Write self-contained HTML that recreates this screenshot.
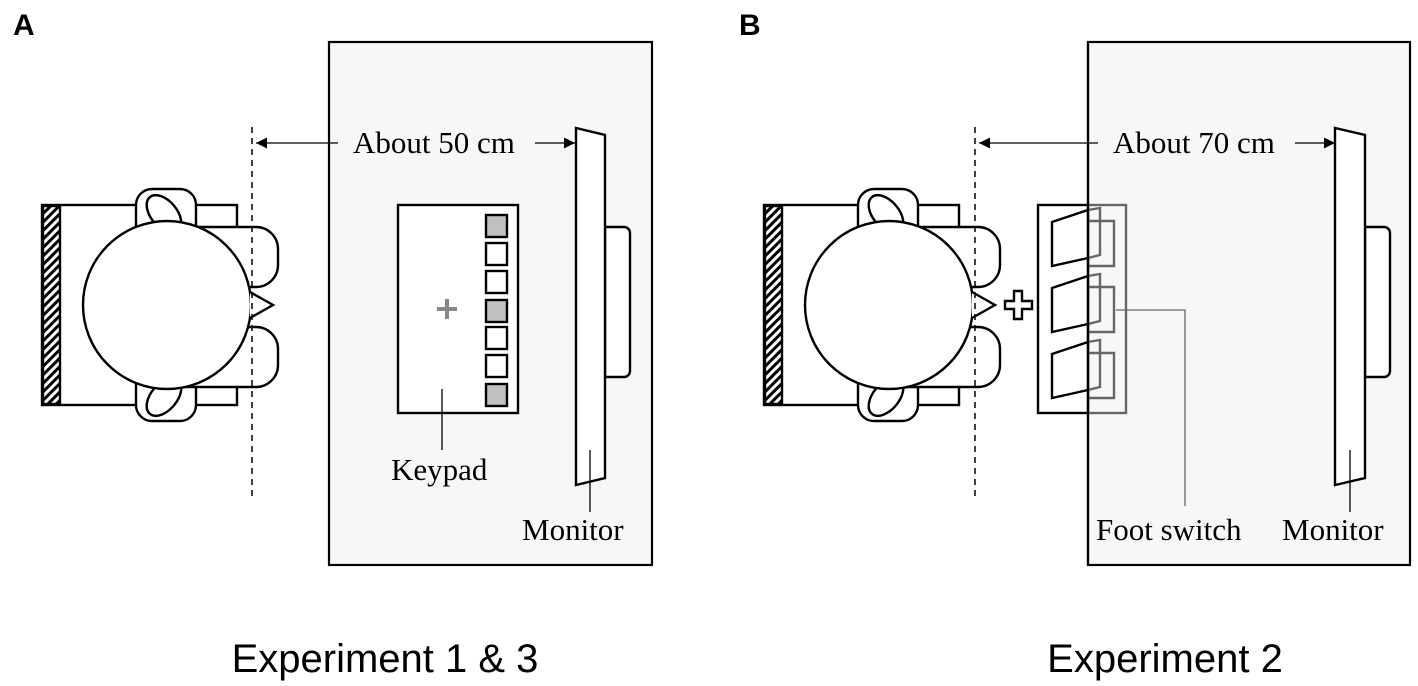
<!DOCTYPE html>
<html><head><meta charset="utf-8"><style>
html,body{margin:0;padding:0;background:#fff;}
svg{display:block;}
.s{font-family:"Liberation Serif",serif;font-size:31px;fill:#000;}
</style></head><body>
<svg width="1418" height="686" viewBox="0 0 1418 686" xmlns="http://www.w3.org/2000/svg">
<defs>
<pattern id="h" width="6" height="6" patternUnits="userSpaceOnUse" patternTransform="rotate(45)">
<rect width="6" height="6" fill="#fff"/><rect width="3" height="6" fill="#000"/></pattern>
<marker id="ar" viewBox="0 0 10 10" refX="10" refY="5" markerWidth="11" markerHeight="11" markerUnits="userSpaceOnUse" orient="auto"><path d="M0,0L10,5L0,10z" fill="#000"/></marker>
<g id="person" stroke-width="2.4">
<rect x="42" y="205" width="195" height="200" fill="#fff" stroke="#000"/>
<rect x="43" y="206" width="17" height="198" fill="url(#h)" stroke="#000"/>
<rect x="136" y="189" width="60" height="70" rx="16" fill="#fff" stroke="#000"/>
<rect x="136" y="355" width="60" height="66" rx="16" fill="#fff" stroke="#000"/>
<ellipse cx="164" cy="214" rx="13" ry="22" transform="rotate(-40 164 214)" fill="#fff" stroke="#000"/>
<ellipse cx="164" cy="397" rx="13" ry="22" transform="rotate(40 164 397)" fill="#fff" stroke="#000"/>
<path d="M170,227H256a22,22 0 0 1 22,22v16a22,22 0 0 1 -22,22H170z" fill="#fff" stroke="#000"/>
<path d="M170,327H256a22,22 0 0 1 22,22v16a22,22 0 0 1 -22,22H170z" fill="#fff" stroke="#000"/>
<circle cx="167" cy="305" r="84" fill="#fff" stroke="#000"/>
<path d="M250,292L273,305L250,318" fill="#fff" stroke="#000"/>
</g>
</defs>

<text x="13" y="35" font-family="Liberation Sans,sans-serif" font-weight="bold" font-size="30">A</text>
<text x="739" y="35" font-family="Liberation Sans,sans-serif" font-weight="bold" font-size="30">B</text>

<!-- Panel A -->
<rect x="329" y="42" width="323" height="523" fill="#f7f7f7" stroke="#000" stroke-width="2.2"/>
<use href="#person"/>
<line x1="252" y1="127" x2="252" y2="500" stroke="#000" stroke-width="1.5" stroke-dasharray="6,5"/>
<line x1="338" y1="143" x2="256" y2="143" stroke="#000" stroke-width="1.3" marker-end="url(#ar)"/>
<text class="s" x="353" y="153">About 50 cm</text>
<line x1="535" y1="143" x2="575" y2="143" stroke="#000" stroke-width="1.3" marker-end="url(#ar)"/>
<rect x="398" y="205" width="120" height="208" fill="#fff" stroke="#000" stroke-width="2.4"/>
<g stroke="#000" stroke-width="2.4">
<rect x="486" y="215" width="21" height="22" fill="#c0c0c0"/>
<rect x="486" y="243" width="21" height="22" fill="#fff"/>
<rect x="486" y="271" width="21" height="22" fill="#fff"/>
<rect x="486" y="300" width="21" height="22" fill="#c0c0c0"/>
<rect x="486" y="327" width="21" height="22" fill="#fff"/>
<rect x="486" y="355" width="21" height="22" fill="#fff"/>
<rect x="486" y="384" width="21" height="22" fill="#c0c0c0"/>
</g>
<path d="M437,309h20M447,299v20" stroke="#888" stroke-width="4"/>
<line x1="442" y1="389" x2="442" y2="450" stroke="#000" stroke-width="1.3"/>
<text class="s" x="391" y="480">Keypad</text>
<path d="M605,227h19a6,6 0 0 1 6,6v138a6,6 0 0 1 -6,6h-19z" fill="#fff" stroke="#000" stroke-width="2.4"/>
<path d="M576,128L605,135L605,478L576,485z" fill="#fff" stroke="#000" stroke-width="2.4"/>
<line x1="590" y1="450" x2="590" y2="512" stroke="#000" stroke-width="1.3"/>
<text class="s" x="522" y="540">Monitor</text>
<text x="385" y="672" text-anchor="middle" font-family="Liberation Sans,sans-serif" font-size="40">Experiment 1 &amp; 3</text>

<!-- Panel B -->
<rect x="1088" y="42" width="322" height="523" fill="#f7f7f7" stroke="#000" stroke-width="2.2"/>
<use href="#person" transform="translate(722,0)"/>
<line x1="975" y1="127" x2="975" y2="500" stroke="#000" stroke-width="1.5" stroke-dasharray="6,5"/>
<line x1="1098" y1="143" x2="979" y2="143" stroke="#000" stroke-width="1.3" marker-end="url(#ar)"/>
<text class="s" x="1113" y="153">About 70 cm</text>
<line x1="1295" y1="143" x2="1335" y2="143" stroke="#000" stroke-width="1.3" marker-end="url(#ar)"/>
<path d="M1005,301h9v-10h8v10h10v8h-10v10h-8v-10h-9z" fill="#fff" stroke="#000" stroke-width="2.4"/>
<rect x="1038" y="205" width="50" height="208" fill="#fff" stroke="#000" stroke-width="2.4"/>
<rect x="1088" y="205" width="38" height="208" fill="none" stroke="#666" stroke-width="2.4"/>
<g fill="none" stroke-width="2.4">
<g id="ped">
<path d="M1088,221h26v45h-26" stroke="#666"/>
<path d="M1088,210L1100,208V255L1088,258" stroke="#666"/>
<path d="M1088,210L1052,222V266L1088,258" stroke="#000"/>
</g>
<use href="#ped" transform="translate(0,66)"/>
<use href="#ped" transform="translate(0,132)"/>
</g>
<line x1="1088" y1="42" x2="1088" y2="565" stroke="#000" stroke-width="2.2"/>
<path d="M1116,310H1185V506" fill="none" stroke="#666" stroke-width="1.3"/>
<text class="s" x="1096" y="540">Foot switch</text>
<path d="M1365,227h19a6,6 0 0 1 6,6v138a6,6 0 0 1 -6,6h-19z" fill="#fff" stroke="#000" stroke-width="2.4"/>
<path d="M1335,128L1365,135L1365,478L1335,485z" fill="#fff" stroke="#000" stroke-width="2.4"/>
<line x1="1350" y1="450" x2="1350" y2="512" stroke="#000" stroke-width="1.3"/>
<text class="s" x="1282" y="540">Monitor</text>
<text x="1165" y="672" text-anchor="middle" font-family="Liberation Sans,sans-serif" font-size="40">Experiment 2</text>
</svg>
</body></html>
